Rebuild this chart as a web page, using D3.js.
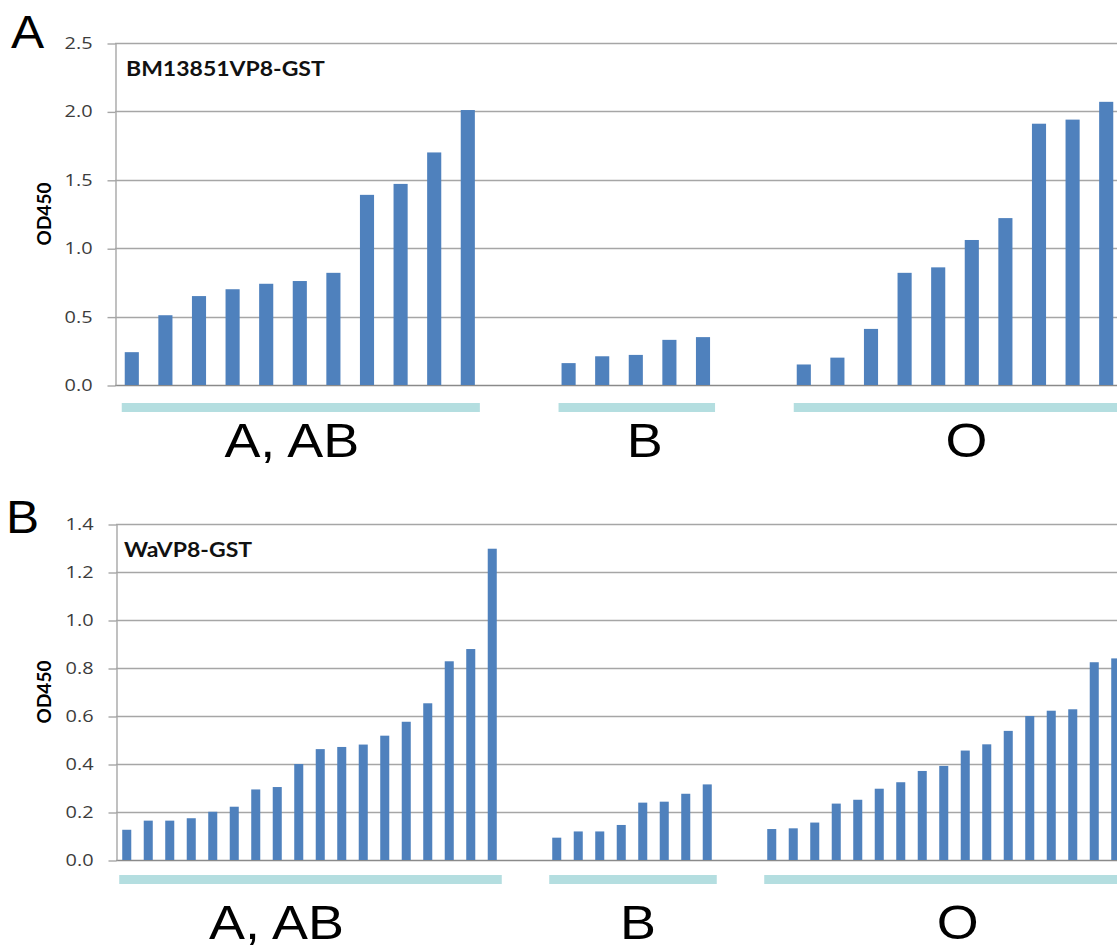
<!DOCTYPE html>
<html>
<head>
<meta charset="utf-8">
<script src="https://cdn.jsdelivr.net/npm/d3@7"></script>
<style>
  html, body { margin: 0; padding: 0; background: #fff; }
  svg { display: block; }
</style>
</head>
<body>
<svg id="fig" width="1117" height="948"></svg>
<script>
// OD450 binding of VP8-GST to saliva samples, sorted within each blood group
const groupNames = ["A, AB", "B", "O"];

const bmGroupAB = [0.24, 0.51, 0.65, 0.70, 0.74, 0.76, 0.82, 1.39, 1.47, 1.70, 2.01];
const bmGroupB  = [0.16, 0.21, 0.22, 0.33, 0.35];
const bmGroupO  = [0.15, 0.20, 0.41, 0.82, 0.86, 1.06, 1.22, 1.91, 1.94, 2.07];
const bmTicks   = [0, 0.5, 1.0, 1.5, 2.0, 2.5];

const waGroupAB = [0.126, 0.164, 0.164, 0.174, 0.201, 0.222, 0.294, 0.304, 0.400,
                   0.462, 0.471, 0.481, 0.518, 0.576, 0.653, 0.828, 0.879, 1.297];
const waGroupB  = [0.093, 0.119, 0.119, 0.146, 0.239, 0.243, 0.276, 0.315];
const waGroupO  = [0.129, 0.132, 0.156, 0.235, 0.251, 0.297, 0.324, 0.371, 0.392,
                   0.456, 0.482, 0.538, 0.600, 0.622, 0.628, 0.824, 0.840];
const waTicks   = [0, 0.2, 0.4, 0.6, 0.8, 1.0, 1.2, 1.4];

const W = 1117, H = 948;
const svg = d3.select("#fig");
svg.append("rect").attr("width", W).attr("height", H).attr("fill", "#fff");

const BAR = "#4f81bd", UNDERLINE = "#b4dee0", GRID = "#a6a6a6", BASE = "#8a8a8a";
const GAP_SLOTS = 2;
const TICK_STRETCH = 1.17;

const panels = [
  { letter: "A", title: "BM13851VP8-GST", groups: [bmGroupAB, bmGroupB, bmGroupO], ticks: bmTicks,
    top: 43, bottom: 385, left: 115, step: 33.6,
    letterPos: [11, 48], titlePos: [126, 76],
    underlineY: 403, underlineH: 9, labelY: 457, labelShift: [-9, 8, 11] },
  { letter: "B", title: "WaVP8-GST", groups: [waGroupAB, waGroupB, waGroupO], ticks: waTicks,
    top: 524, bottom: 860, left: 116, step: 21.5,
    letterPos: [6, 533], titlePos: [124, 557],
    underlineY: 875, underlineH: 9, labelY: 939, labelShift: [-34, 5, 17] }
];

panels.forEach(p => {
  const g = svg.append("g");

  // one band per sample, with empty bands separating the blood groups
  const slots = [];
  p.groups.forEach((vals, gi) => {
    vals.forEach((v, i) => slots.push({ key: `${gi}-${i}`, group: gi, value: v }));
    if (gi < p.groups.length - 1)
      for (let k = 0; k < GAP_SLOTS; k++) slots.push({ key: `gap-${gi}-${k}`, group: -1, value: null });
  });

  const x = d3.scaleBand()
    .domain(slots.map(d => d.key))
    .range([p.left, p.left + p.step * slots.length])
    .paddingInner(0.58)
    .paddingOuter(0.29);

  const yMax = d3.max(p.ticks);
  const y = d3.scaleLinear().domain([0, yMax]).range([p.bottom, p.top]);

  // horizontal gridlines
  g.append("g").selectAll("line").data(p.ticks).join("line")
    .attr("x1", p.left).attr("x2", W)
    .attr("y1", d => Math.round(y(d)) + 0.5).attr("y2", d => Math.round(y(d)) + 0.5)
    .attr("stroke", d => d === 0 ? BASE : GRID).attr("stroke-width", 1.4);

  // value axis with outward tick stubs
  const axis = d3.axisLeft(y).tickValues(p.ticks).tickFormat(d3.format(".1f"))
    .tickSizeInner(8).tickSizeOuter(0).tickPadding(15);
  const ax = g.append("g").attr("transform", `translate(${p.left + 0.5},0)`).call(axis);
  ax.select(".domain").attr("stroke", GRID).attr("stroke-width", 1.4);
  ax.selectAll(".tick line").attr("stroke", GRID).attr("stroke-width", 1.4)
    .attr("transform", "translate(0,0.5)");
  ax.selectAll(".tick text")
    .attr("fill", "#3c3c3c")
    .style("font-family", "'Open Sans', 'Liberation Sans', sans-serif")
    .style("font-size", "17px")
    .attr("transform", `scale(${TICK_STRETCH},1)`)
    .attr("x", -(8 + 15) / TICK_STRETCH);

  // y-axis title
  g.append("text")
    .attr("transform", `translate(51,${(p.top + p.bottom) / 2}) rotate(-90)`)
    .attr("text-anchor", "middle")
    .style("font-family", "Lato, 'Open Sans', sans-serif")
    .style("font-weight", "bold").style("font-size", "19px")
    .attr("fill", "#000")
    .text("OD450");

  // bars
  g.append("g").selectAll("rect").data(slots.filter(d => d.value !== null)).join("rect")
    .attr("x", d => x(d.key))
    .attr("width", x.bandwidth())
    .attr("y", d => y(d.value))
    .attr("height", d => y(0) - y(d.value))
    .attr("fill", BAR);

  // blood-group underlines and labels
  p.groups.forEach((vals, gi) => {
    const x0 = x(`${gi}-0`) - 3;
    const x1 = x(`${gi}-${vals.length - 1}`) + x.bandwidth() + 5;
    g.append("rect")
      .attr("x", x0).attr("y", p.underlineY)
      .attr("width", x1 - x0).attr("height", p.underlineH)
      .attr("fill", UNDERLINE);
    const cx = (Math.min(x1, W) + x0) / 2 + p.labelShift[gi];
    g.append("text")
      .attr("transform", `translate(${cx},${p.labelY}) scale(1.1,1)`)
      .attr("text-anchor", "middle")
      .style("font-family", "'Liberation Sans', Arial, sans-serif")
      .style("font-size", "49px")
      .attr("fill", "#000")
      .text(groupNames[gi]);
  });

  // chart title inside the plot area
  g.append("text")
    .attr("transform", `translate(${p.titlePos[0]},${p.titlePos[1]}) scale(1.15,1)`)
    .style("font-family", "Lato, 'Open Sans', sans-serif")
    .style("font-weight", "bold").style("font-size", "20px")
    .attr("fill", "#111")
    .text(p.title);

  // panel letter
  g.append("text")
    .attr("transform", `translate(${p.letterPos[0]},${p.letterPos[1]}) scale(1.08,1)`)
    .style("font-family", "'Liberation Sans', Arial, sans-serif")
    .style("font-size", "46px")
    .attr("fill", "#000")
    .text(p.letter);
});
</script>
</body>
</html>
